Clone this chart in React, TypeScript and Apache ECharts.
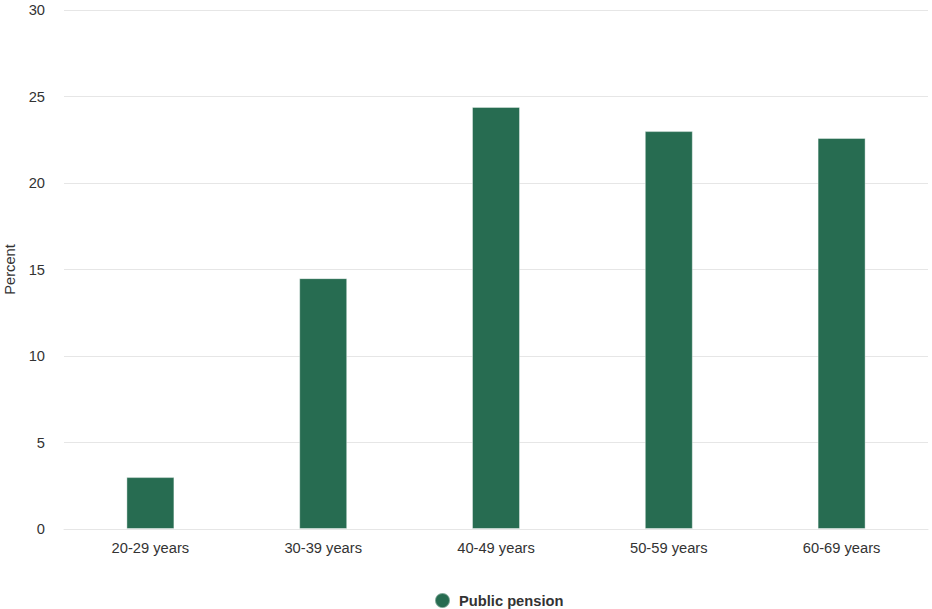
import React, { useEffect, useRef } from "react";
import * as echarts from "echarts";

const categories = ["20-29 years", "30-39 years", "40-49 years", "50-59 years", "60-69 years"];
const publicPension = [3.0, 14.5, 24.4, 23.0, 22.6];
const seriesName = "Public pension";
const yAxisTitle = "Percent";

export default function App() {
  const ref = useRef<HTMLDivElement>(null);
  useEffect(() => {
    if (!ref.current) return;
    const chart = echarts.init(ref.current, undefined, { renderer: "svg" });
    chart.setOption({
      animation: false,
      textStyle: { fontFamily: "Liberation Sans, Arial, sans-serif" },
      grid: { left: 64, right: 4, top: 10, bottom: 80, containLabel: false, outerBoundsMode: "none" },
      legend: {
        bottom: 0,
        left: 434,
        padding: 0,
        icon: "circle",
        itemWidth: 15,
        itemHeight: 15,
        textStyle: { fontWeight: "bold", fontSize: 14.7, color: "#333333", padding: [0, 0, 0, 4] },
        data: [seriesName],
      },
      xAxis: {
        type: "category",
        data: categories,
        axisTick: { show: false },
        axisLine: { show: true, lineStyle: { color: "#e6e6e6" } },
        axisLabel: { color: "#333333", fontSize: 14.7, margin: 11 },
      },
      yAxis: {
        type: "value",
        min: 0,
        max: 30,
        interval: 5,
        name: yAxisTitle,
        nameLocation: "middle",
        nameGap: 45,
        nameTextStyle: { color: "#333333", fontSize: 14.7 },
        axisLabel: { color: "#333333", fontSize: 14.7, margin: 19 },
        splitLine: { lineStyle: { color: "#e6e6e6" } },
        axisLine: { show: false },
        axisTick: { show: false },
      },
      series: [
        {
          name: seriesName,
          type: "bar",
          data: publicPension,
          barWidth: 48,
          itemStyle: { color: "#276c51", borderColor: "rgba(255,255,255,0.4)", borderWidth: 1 },
        },
      ],
    });
    return () => chart.dispose();
  }, []);
  return <div ref={ref} style={{ width: 932, height: 609, position: "absolute", left: 0, top: 0 }} />;
}
